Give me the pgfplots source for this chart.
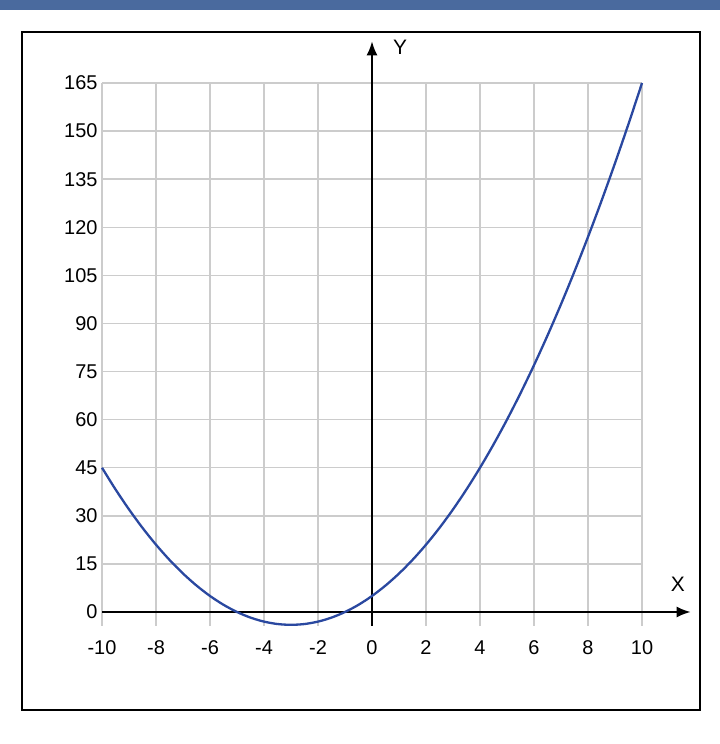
\documentclass[border=0pt]{standalone}
\usepackage{pgfplots}
\pgfplotsset{compat=1.18}
\usepackage{fontspec}
\setmainfont{Liberation Sans}
\usetikzlibrary{arrows.meta}
\definecolor{barblue}{HTML}{4A6A9E}
\definecolor{curve}{HTML}{2A48A0}
\definecolor{gridgray}{HTML}{CCCCCC}
\newcommand{\lbl}{\fontsize{20}{20}\selectfont}
\begin{document}
\begin{tikzpicture}[x=1bp,y=1bp]
\path[use as bounding box] (0,0) rectangle (720,744);
\fill[barblue] (0,734) rectangle (720,744);
\draw[line width=1.8bp] (22,34) rectangle (700,712);
\begin{axis}[
  at={(372bp,132bp)}, anchor=origin,
  x=27bp, y=3.206bp,
  xmin=-10, xmax=10, ymin=-4.3, ymax=165,
  axis line style={draw=none},
  xtick={-10,-8,...,10}, ytick={0,15,...,165},
  major tick length=0pt,
  grid=major,
  major grid style={gridgray, line width=1.4bp},
  clip=false,
  /pgf/number format/assume math mode=true,
  xticklabel={\lbl\pgfmathprintnumber{\tick}},
  yticklabel={\lbl\pgfmathprintnumber{\tick}},
  xticklabel style={text height=14bp, text depth=0bp, yshift=-11bp},
  yticklabel style={xshift=-1bp},
]
\draw[-{Latex[length=14bp,width=11bp]}, line width=1.8bp] (axis cs:-10,0) -- (axis cs:11.8,0);
\draw[-{Latex[length=14bp,width=11bp]}, line width=1.8bp] (axis cs:0,-4.3) -- (axis cs:0,178);
\node[font=\fontsize{21}{21}\selectfont] at (axis cs:11.33,8.6) {X};
\node[font=\fontsize{21}{21}\selectfont] at (axis cs:1.04,176.2) {Y};
\addplot[curve, line width=2.3bp, smooth] coordinates {
(-10,45) (-9.5,38.25) (-9,32) (-8.5,26.25) (-8,21) (-7.5,16.25) (-7,12) (-6.5,8.25)
(-6,5) (-5.5,2.25) (-5,0) (-4.5,-1.75) (-4,-3) (-3.5,-3.75) (-3,-4) (-2.5,-3.75)
(-2,-3) (-1.5,-1.75) (-1,0) (-0.5,2.25) (0,5) (0.5,8.25) (1,12) (1.5,16.25)
(2,21) (2.5,26.25) (3,32) (3.5,38.25) (4,45) (4.5,52.25) (5,60) (5.5,68.25)
(6,77) (6.5,86.25) (7,96) (7.5,106.25) (8,117) (8.5,128.25) (9,140) (9.5,152.25) (10,165)
};
\end{axis}
\end{tikzpicture}
\end{document}
